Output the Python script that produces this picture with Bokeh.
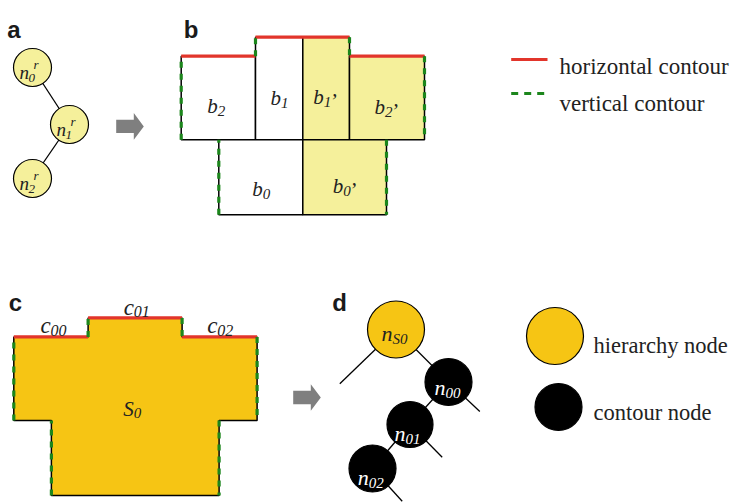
from bokeh.plotting import figure
from bokeh.models import Range1d, ColumnDataSource
from bokeh.core.properties import value
from bokeh.embed import file_html
from bokeh.resources import INLINE

# ------------------------------------------------------------------ data
PANEL_LETTERS = ["a", "b", "c", "d"]

A_NODE_BASE = ["n", "n", "n"]
A_NODE_SUB = ["0", "1", "2"]
A_NODE_SUP = ["r", "r", "r"]
A_EDGES = [(0, 1), (1, 2)]

B_BOX_BASE = ["b", "b", "b", "b", "b", "b"]
B_BOX_SUB = ["2", "1", "1", "2", "0", "0"]
B_BOX_PRIME = ["", "", "\u2019", "\u2019", "", "\u2019"]
B_BOX_SHADED = [False, False, True, True, False, True]

C_SEG_BASE = ["c", "c", "c"]
C_SEG_SUB = ["00", "01", "02"]
C_REGION_BASE = ["S"]
C_REGION_SUB = ["0"]

D_NODE_BASE = ["n", "n", "n", "n"]
D_NODE_SUB = ["S0", "00", "01", "02"]
D_NODE_KIND = ["hierarchy", "contour", "contour", "contour"]
D_EDGES = [(0, 1), (1, 2), (2, 3)]

LEGEND_LINE_LABELS = ["horizontal contour", "vertical contour"]
LEGEND_NODE_LABELS = ["hierarchy node", "contour node"]

# ------------------------------------------------------------------ layout (pixel-like units)
A_NODE_X = [32, 69, 32]
A_NODE_Y = [67, 124, 178]
A_NODE_R = 19

B_LEFT = [180.7, 255, 302.3, 349, 218.3, 302.3]
B_RIGHT = [255, 302.3, 349, 424, 302.3, 386]
B_TOP = [55.7, 36.7, 36.7, 55.7, 139.3, 139.3]
B_BOTTOM = [139.3, 139.3, 139.3, 139.3, 214.3, 214.3]
B_LABEL_X = [206.7, 270, 312.7, 374, 251.7, 332.3]
B_LABEL_Y = [105, 97.3, 96, 106, 188.3, 185]

# outline of the union of the boxes (clockwise from top-left)
OUT_X = [180.7, 255, 255, 349, 349, 424, 424, 386, 386, 218.3, 218.3, 180.7]
OUT_Y = [55.7, 55.7, 36.7, 36.7, 55.7, 55.7, 139.3, 139.3, 214.3, 214.3, 139.3, 139.3]
H_CONTOUR = [(0, 1), (2, 3), (4, 5)]
V_CONTOUR = [(11, 0), (1, 2), (3, 4), (5, 6), (7, 8), (9, 10)]

C_SHIFT = (-167.4, 280.7)
C_LABEL_X = [40, 123.3, 206.7]
C_LABEL_Y = [325, 306.7, 325]
C_REGION_X = [122.7]
C_REGION_Y = [408.3]

D_NODE_X = [395.5, 448, 409.5, 372]
D_NODE_Y = [329, 381.5, 424, 468]
D_NODE_R = [28.5, 23.5, 23, 23.5]
D_LABEL_X = [381, 434, 394, 357.3]
D_LABEL_Y = [333.3, 386.7, 433.3, 476.7]
D_STUB_END_X = [339.3, 479.3, 441.7, 401.7]
D_STUB_END_Y = [383.3, 411, 456.7, 500.7]

ARROW_TAILS = [(115.7, 125.9), (292.7, 397)]

LETTER_X = [6.7, 183.3, 8.3, 331.7]
LETTER_Y = [29.3, 29.3, 301.7, 301.7]

LEG_LINE_X0, LEG_LINE_X1 = 510.7, 547
LEG_LINE_Y = [59, 93]
LEG_TEXT_X = 559
LEG_TEXT_Y = [66, 103.3]
LEG_NODE_X = [554.5, 558]
LEG_NODE_Y = [335.5, 406.5]
LEG_NODE_R = [28.5, 23.5]
LEG_NODE_TEXT_X = 593
LEG_NODE_TEXT_Y = [345, 411.7]

# ------------------------------------------------------------------ styles
LIGHT_YELLOW = "#F5F09B"
GOLD = "#F6C514"
RED = "#E2352B"
GREEN = "#1C861C"
GREY = "#7F7F7F"
SERIF = value("Liberation Serif")
SANS = value("Liberation Sans")

p = figure(width=733, height=502, x_range=Range1d(0, 733), y_range=Range1d(502, 0),
           x_axis_type=None, y_axis_type=None, toolbar_location=None,
           output_backend="svg", min_border=0)
p.grid.visible = False
p.outline_line_color = None
p.background_fill_color = "white"
p.border_fill_color = "white"


def texts(xs, ys, labels, size, color="#222222", style="italic", font=SERIF):
    src = ColumnDataSource(dict(x=xs, y=ys, t=labels))
    p.text(x="x", y="y", text="t", source=src, text_font=font, text_font_style=style,
           text_font_size=size, text_color=color, text_align="left",
           text_baseline="alphabetic")


def contours(ox, oy, dx=0.0, dy=0.0):
    hx0 = [ox[a] + dx for a, b in H_CONTOUR]
    hx1 = [ox[b] + dx for a, b in H_CONTOUR]
    hy0 = [oy[a] + dy for a, b in H_CONTOUR]
    hy1 = [oy[b] + dy for a, b in H_CONTOUR]
    p.segment(x0=hx0, y0=hy0, x1=hx1, y1=hy1, line_color=RED, line_width=3.2)
    vx0 = [ox[a] + dx for a, b in V_CONTOUR]
    vx1 = [ox[b] + dx for a, b in V_CONTOUR]
    vy0 = [oy[a] + dy for a, b in V_CONTOUR]
    vy1 = [oy[b] + dy for a, b in V_CONTOUR]
    p.segment(x0=vx0, y0=vy0, x1=vx1, y1=vy1, line_color=GREEN, line_width=3.2,
              line_dash="6 6")


def arrow(tx, ty):
    L, bh, hl, hh = 27.6, 13.4, 10, 26.6
    xs = [tx, tx + L - hl, tx + L - hl, tx + L, tx + L - hl, tx + L - hl, tx]
    ys = [ty - bh / 2, ty - bh / 2, ty - hh / 2, ty, ty + hh / 2, ty + bh / 2, ty + bh / 2]
    p.patch(xs, ys, fill_color=GREY, line_color=None)


# ---------------- panel a
for a, b in A_EDGES:
    p.line([A_NODE_X[a], A_NODE_X[b]], [A_NODE_Y[a], A_NODE_Y[b]], line_color="black", line_width=1.3)
p.scatter(A_NODE_X, A_NODE_Y, size=2 * A_NODE_R, marker="circle",
          fill_color=LIGHT_YELLOW, line_color="black", line_width=1.2)
texts([x - 13 for x in A_NODE_X], [y + 5 for y in A_NODE_Y], A_NODE_BASE, "19px")
texts([x - 4 for x in A_NODE_X], [y + 10 for y in A_NODE_Y], A_NODE_SUB, "13px")
texts([x + 1 for x in A_NODE_X], [y - 3 for y in A_NODE_Y], A_NODE_SUP, "13px")
arrow(*ARROW_TAILS[0])

# ---------------- panel b
p.quad(left=B_LEFT, right=B_RIGHT, top=B_TOP, bottom=B_BOTTOM,
       fill_color=[LIGHT_YELLOW if s else "white" for s in B_BOX_SHADED],
       line_color="black", line_width=1.5)
contours(OUT_X, OUT_Y)
texts(B_LABEL_X, B_LABEL_Y, B_BOX_BASE, "21px")
texts([x + 10.5 for x in B_LABEL_X], [y + 5.5 for y in B_LABEL_Y], B_BOX_SUB, "15px")
texts([x + 16.5 for x in B_LABEL_X], [y + 4 for y in B_LABEL_Y], B_BOX_PRIME, "21px")

# ---------------- legend (contours)
p.segment(x0=[LEG_LINE_X0], y0=[LEG_LINE_Y[0]], x1=[LEG_LINE_X1], y1=[LEG_LINE_Y[0]],
          line_color=RED, line_width=3.2)
p.segment(x0=[LEG_LINE_X0], y0=[LEG_LINE_Y[1]], x1=[LEG_LINE_X1], y1=[LEG_LINE_Y[1]],
          line_color=GREEN, line_width=3.2, line_dash="7 6")
texts([LEG_TEXT_X] * 2, LEG_TEXT_Y, LEGEND_LINE_LABELS, "23px", style="normal")

# ---------------- panel c
dx, dy = C_SHIFT
p.patch([x + dx for x in OUT_X], [y + dy for y in OUT_Y], fill_color=GOLD,
        line_color="black", line_width=1.5)
contours(OUT_X, OUT_Y, dx, dy)
texts(C_LABEL_X, C_LABEL_Y, C_SEG_BASE, "23px")
texts([x + 10 for x in C_LABEL_X], [y + 4.5 for y in C_LABEL_Y], C_SEG_SUB, "16px")
texts(C_REGION_X, C_REGION_Y, C_REGION_BASE, "21px")
texts([x + 10.6 for x in C_REGION_X], [y + 4.4 for y in C_REGION_Y], C_REGION_SUB, "15px")
arrow(*ARROW_TAILS[1])

# ---------------- panel d
for a, b in D_EDGES:
    p.line([D_NODE_X[a], D_NODE_X[b]], [D_NODE_Y[a], D_NODE_Y[b]], line_color="black", line_width=1.3)
p.segment(x0=D_NODE_X, y0=D_NODE_Y, x1=D_STUB_END_X, y1=D_STUB_END_Y,
          line_color="black", line_width=1.3)
p.scatter(D_NODE_X, D_NODE_Y, size=[2 * r for r in D_NODE_R], marker="circle",
          fill_color=[GOLD if k == "hierarchy" else "black" for k in D_NODE_KIND],
          line_color="black", line_width=1.2)
node_colors = ["#222222" if k == "hierarchy" else "white" for k in D_NODE_KIND]
for i in range(len(D_NODE_BASE)):
    texts([D_LABEL_X[i]], [D_LABEL_Y[i]], [D_NODE_BASE[i]], "22px", color=node_colors[i])
    texts([D_LABEL_X[i] + 11], [D_LABEL_Y[i] + 5.5], [D_NODE_SUB[i]], "15px", color=node_colors[i])

# ---------------- legend (nodes)
p.scatter(LEG_NODE_X, LEG_NODE_Y, size=[2 * r for r in LEG_NODE_R], marker="circle",
          fill_color=[GOLD, "black"], line_color="black", line_width=1.2)
texts([LEG_NODE_TEXT_X] * 2, LEG_NODE_TEXT_Y, LEGEND_NODE_LABELS, "22.5px", style="normal")

# ---------------- panel letters
texts(LETTER_X, LETTER_Y, PANEL_LETTERS, "24px", color="#1a1a1a", style="bold", font=SANS)

open("out.html", "w").write(file_html(p, INLINE))
